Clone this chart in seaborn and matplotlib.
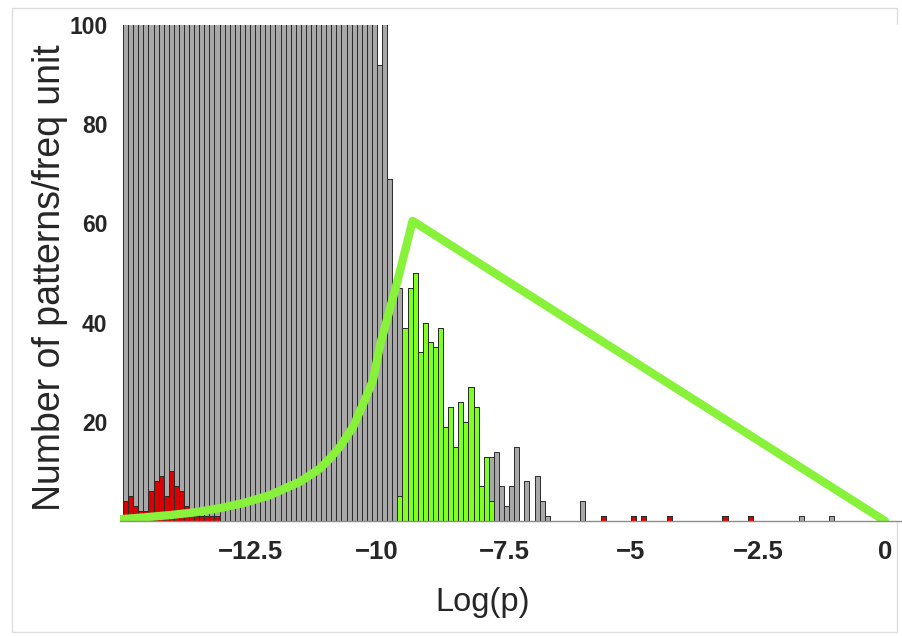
import numpy as np
import pandas as pd
import matplotlib
matplotlib.use("Agg")
import matplotlib.pyplot as plt
from matplotlib.patches import Rectangle
import seaborn as sns

# histogram bins: width 0.1 in Log(p), starting at -15
bin_start = -15.0
bin_width = 0.1

# all patterns (grey); bins that run off the top of the axis are given 120
gray_counts = [120] * 50 + [92, 120, 69, 47, 47, 39, 47, 50, 34, 40, 36, 35, 39, 19,
                            23, 15, 24, 20, 27, 23, 7, 13, 13, 14, 7, 3, 7, 15, 0, 8,
                            0, 9, 4, 1]
gray_tail_logp = [-5.95, -5.55, -4.95, -4.75, -4.25, -3.15, -2.65, -1.65, -1.05]
gray_tail_counts = [4, 1, 1, 1, 1, 1, 1, 1, 1]

# green subset, starting at bin 54 (-9.6)
green_first_bin = 54
green_counts = [5, 39, 47, 50, 34, 40, 36, 35, 39, 19, 23, 15, 24, 20, 27, 23, 7, 13, 4]

# red subset
red_counts = [4, 5, 3, 2, 2, 6, 8, 9, 5, 10, 7, 6, 3, 2, 1, 1, 1, 1, 1]
red_tail_logp = [-5.55, -4.95, -4.75, -4.25, -3.15, -2.65]
red_tail_counts = [1, 1, 1, 1, 1, 1]

# green reference curve
curve_logp = [-15.06, -14.57, -14.07, -13.58, -13.09, -12.60, -12.11, -11.81, -11.52,
              -11.12, -10.93, -10.73, -10.47, -10.24, -10.08, -9.94, -9.61, -9.30, 0.0]
curve_y = [0.35, 0.75, 1.2, 1.75, 2.6, 3.7, 5.2, 6.6, 7.9,
           10.6, 12.6, 15.0, 19.0, 24.4, 28.4, 35.5, 47.9, 60.5, 0.0]

xticks = [-12.5, -10, -7.5, -5, -2.5, 0]
xtick_labels = ["\u221212.5", "\u221210", "\u22127.5", "\u22125", "\u22122.5", "0"]
yticks = [20, 40, 60, 80, 100]

sns.set_style("white")
plt.rcParams["font.family"] = ["Liberation Sans", "DejaVu Sans"]


def centers(first, count):
    return [round(bin_start + bin_width * (first + i + 0.5), 3) for i in range(count)]


def hist_frame(logp, counts):
    return pd.DataFrame({"logp": logp, "count": counts})


gray_df = hist_frame(centers(0, len(gray_counts)) + gray_tail_logp,
                     gray_counts + gray_tail_counts)
green_df = hist_frame(centers(green_first_bin, len(green_counts)), green_counts)
red_df = hist_frame(centers(0, len(red_counts)) + red_tail_logp,
                    red_counts + red_tail_counts)

fig = plt.figure(figsize=(9.03, 6.36), dpi=100)
ax = fig.add_axes([120 / 903, 1 - 521 / 636, 783 / 903, 496 / 636])

bar_kw = dict(x="logp", weights="count", binwidth=bin_width, binrange=(bin_start, 0.0),
              stat="count", element="bars", fill=True, alpha=1,
              edgecolor="#2a2a2a", linewidth=0.7, ax=ax)

sns.histplot(data=gray_df, color="#a8a8a8", **bar_kw)
sns.histplot(data=green_df, color="#80ff22", **bar_kw)
sns.histplot(data=red_df, color="#dd0000", **bar_kw)

sns.lineplot(x=curve_logp, y=curve_y, sort=False, estimator=None, color="#88f23a",
             linewidth=6, ax=ax, solid_capstyle="round", solid_joinstyle="round")

ax.set_xlim(-15.06, 0.354)
ax.set_ylim(0, 100)

for s in ["left", "top", "right"]:
    ax.spines[s].set_visible(False)
ax.spines["bottom"].set_color("#8c8c8c")
ax.spines["bottom"].set_linewidth(1.0)

ax.set_xticks(xticks)
ax.set_xticklabels(xtick_labels, fontsize=18.5, fontweight="bold")
ax.set_yticks(yticks)
ax.set_yticklabels([str(v) for v in yticks], fontsize=16.5, fontweight="bold")
ax.tick_params(axis="x", direction="in", length=4, width=0.8, color="#bbbbbb", pad=14)
ax.tick_params(axis="y", length=0, pad=9)

ax.set_xlabel("Log(p)", fontsize=23.5)
ax.set_ylabel("Number of patterns/freq unit", fontsize=27)
ax.xaxis.set_label_coords((483 - 120) / 783, -0.133)
ax.yaxis.set_label_coords(-0.067, 0.491)

fig.patches.append(Rectangle((12 / 903, 4 / 636), 885 / 903, 624 / 636,
                             transform=fig.transFigure, fill=False,
                             edgecolor="#dedede", linewidth=1.0, zorder=-1))

fig.savefig("out.png", dpi=100)
